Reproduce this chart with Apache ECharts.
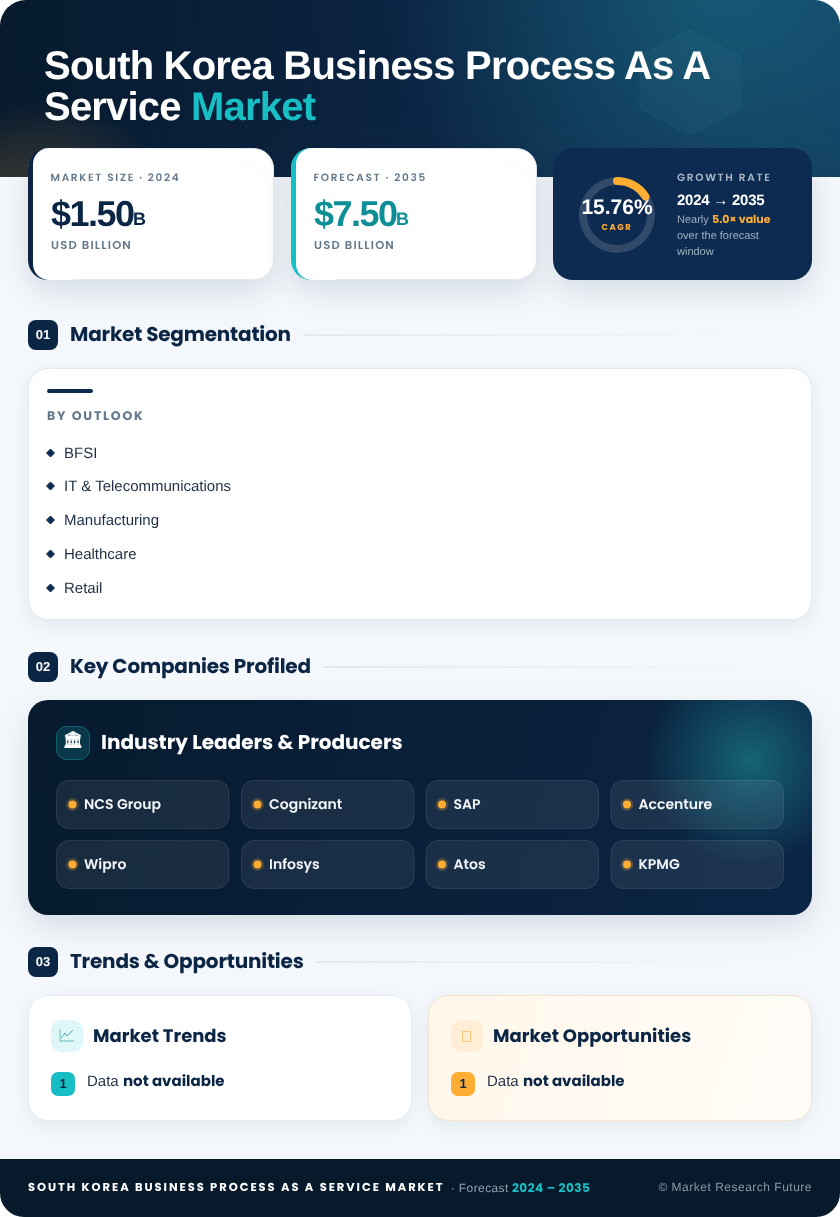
<!DOCTYPE html>
<html>
<head>
<meta charset="utf-8">
<title>South Korea Business Process As A Service Market</title>
<style>
  html, body { margin: 0; padding: 0; background: #ffffff; }
  #main { width: 840px; height: 1217px; }
</style>
</head>
<body>
<div id="main"></div>
<script src="https://cdn.jsdelivr.net/npm/echarts@6/dist/echarts.min.js"></script>
<script>
// values
const titleLines = ['South Korea Business Process As A', 'Service ', 'Market']
const marketLabels = ['MARKET SIZE · 2024', 'FORECAST · 2035']
const marketValues = ['$1.50', '$7.50']
const cagrValue = [15.76]
const growthLines = ['GROWTH RATE', '2024 → 2035', 'Nearly ', '5.0× value', 'over the forecast', 'window']
const sectionTitles = ['Market Segmentation', 'Key Companies Profiled', 'Trends & Opportunities']
const segments = ['BFSI', 'IT & Telecommunications', 'Manufacturing', 'Healthcare', 'Retail']
const companies = ['NCS Group', 'Cognizant', 'SAP', 'Accenture', 'Wipro', 'Infosys', 'Atos', 'KPMG']
const footerParts = ['SOUTH KOREA BUSINESS PROCESS AS A SERVICE MARKET', ' · Forecast ', '2024 – 2035', '© Market Research Future']

const NAVY = '#0b2545'
const DARK = '#071a2e'
const TEAL = '#17bfc4'
const AMBER = '#ffad33'
const GREY = '#64788c'
const SANS = '"Liberation Sans"'
const HEAD = 'Poppins, Inter'

// zrender has no letter spacing, so set it on the context for these strings
const spacing = {
  [titleLines[0]]: '-0.8px', [titleLines[1]]: '-0.8px', [titleLines[2]]: '-0.8px',
  [marketLabels[0]]: '1.7px', [marketLabels[1]]: '1.7px',
  [marketValues[0]]: '-1.5px', [marketValues[1]]: '-1.5px',
  'USD BILLION': '1.2px', 'GROWTH RATE': '1.7px', 'CAGR': '1.5px', 'BY OUTLOOK': '1.8px',
  [growthLines[1]]: '-0.25px',
  [sectionTitles[0]]: '-0.2px', [sectionTitles[1]]: '-0.2px', [sectionTitles[2]]: '-0.2px',
  [footerParts[0]]: '1.95px', [footerParts[1]]: '0.4px', [footerParts[2]]: '0.5px', [footerParts[3]]: '0.5px'
}
const fillText = CanvasRenderingContext2D.prototype.fillText
CanvasRenderingContext2D.prototype.fillText = function (t, x, y) {
  this.letterSpacing = spacing[t] || '0px'
  this.textRendering = 'geometricPrecision'
  fillText.call(this, t, x, y)
}

function txt(text, x, y, font, fill, align) {
  return {
    type: 'text',
    silent: true,
    style: { text, x, y, font, fill, align: align || 'left', verticalAlign: 'middle' }
  }
}
function box(x, y, width, height, r, fill, extra) {
  return {
    type: 'rect',
    silent: true,
    shape: { x, y, width, height, r },
    style: Object.assign({ fill }, extra || {})
  }
}
function radial(x, y, r, color, alpha) {
  return {
    type: 'radial', x, y, r, global: true,
    colorStops: [{ offset: 0, color: 'rgba(' + color + ',' + alpha + ')' }, { offset: 1, color: 'rgba(' + color + ',0)' }]
  }
}
const cardShadow = { shadowBlur: 30, shadowOffsetY: 12, shadowColor: 'rgba(11,37,69,0.13)' }
const softShadow = { shadowBlur: 18, shadowOffsetY: 5, shadowColor: 'rgba(11,37,69,0.08)' }

const els = []

// page and header
els.push(box(0, 0, 840, 1217, 26, '#f4f8fc'))
const headerFill = {
  type: 'linear', x: 0, y: 0.4, x2: 1, y2: 0,
  colorStops: [{ offset: 0, color: DARK }, { offset: 0.55, color: NAVY }, { offset: 1, color: '#10375a' }]
}
els.push(box(0, 0, 840, 177, [26, 26, 0, 0], headerFill))
els.push(box(0, 0, 840, 177, [26, 26, 0, 0], radial(720, -20, 340, '30,130,150', 0.5)))
els.push(box(0, 0, 840, 177, [26, 26, 0, 0], radial(40, 250, 150, '255,170,60', 0.35)))
els.push({
  type: 'polygon',
  silent: true,
  shape: { points: [[690, 30], [740, 56], [740, 109], [690, 135], [640, 109], [640, 56]] },
  style: { fill: 'rgba(120,200,210,0.05)', stroke: 'rgba(23,191,196,0.1)', lineWidth: 1 }
})
els.push(txt(titleLines[0], 44, 68, 'bold 40px ' + SANS, '#ffffff'))
els.push(txt(titleLines[1], 44, 109, 'bold 40px ' + SANS, '#ffffff'))
els.push(txt(titleLines[2], 191, 109, 'bold 40px ' + SANS, TEAL))

// value cards
const cardX = [28, 291]
const accent = [NAVY, TEAL]
const valueColor = [NAVY, '#0c8f96']
cardX.forEach((x, i) => {
  els.push(box(x + 0.5, 148.5, 245, 131, 20, '#ffffff', Object.assign({ stroke: '#e3eaf1', lineWidth: 1 }, cardShadow)))
  els.push(box(x, 148, 20, 132, [20, 0, 0, 20], accent[i]))
  els.push(box(x + 5, 148, 40, 132, [16, 0, 0, 16], '#ffffff'))
  els.push(txt(marketLabels[i], x + 22.5, 178, '600 10.5px ' + HEAD, GREY))
  els.push(txt(marketValues[i], x + 23, 216, 'bold 36px ' + SANS, valueColor[i]))
  els.push(txt('B', x + 105, 220, 'bold 18px ' + SANS, valueColor[i]))
  els.push(txt('USD BILLION', x + 23, 246.5, '600 11.5px ' + HEAD, GREY))
})

// growth card
els.push(box(553, 148, 259, 132, 20, '#0d2b50', cardShadow))
els.push(txt(growthLines[0], 677, 178, '600 10.5px ' + HEAD, '#a9b8c8'))
els.push(txt(growthLines[1], 677, 201, 'bold 15px ' + SANS, '#ffffff'))
els.push(txt(growthLines[2], 677, 220, '11px ' + SANS, '#9fb0c3'))
els.push(txt(growthLines[3], 712, 220, '700 11px ' + HEAD, AMBER))
els.push(txt(growthLines[4], 677, 236, '11px ' + SANS, '#9fb0c3'))
els.push(txt(growthLines[5], 677, 252, '11px ' + SANS, '#9fb0c3'))

// section headers
const sectionY = [335, 667, 962]
const ruleX = [303, 323, 316]
sectionTitles.forEach((t, i) => {
  const y = sectionY[i]
  els.push(box(28, y - 15, 30, 30, 8, NAVY))
  els.push(txt('0' + (i + 1), 43, y, 'bold 13px ' + SANS, '#ffffff', 'center'))
  els.push(txt(t, 70, y + 1, '700 20px ' + HEAD, NAVY))
  els.push(box(ruleX[i], y - 1, 450, 2, 1, {
    type: 'linear', x: 0, y: 0, x2: 1, y2: 0,
    colorStops: [{ offset: 0, color: '#e2e9f0' }, { offset: 1, color: 'rgba(226,233,240,0)' }]
  }))
})

// segmentation
els.push(box(28.5, 368.5, 783, 251, 20, '#ffffff', Object.assign({ stroke: '#e3eaf1', lineWidth: 1 }, softShadow)))
els.push(box(47, 389, 46, 4, 2, '#0d2b50'))
els.push(txt('BY OUTLOOK', 47, 417, '700 12.5px ' + HEAD, GREY))
const segmentY = [453, 486, 520, 554, 588]
segments.forEach((s, i) => {
  const y = segmentY[i]
  els.push({
    type: 'polygon', silent: true,
    shape: { points: [[50.5, y - 4], [54.5, y], [50.5, y + 4], [46.5, y]] },
    style: { fill: '#0d2b50', stroke: '#0d2b50', lineWidth: 1, lineJoin: 'round' }
  })
  els.push(txt(s, 64, y + 1, '15px ' + SANS, '#1f2f45'))
})

// companies
const companyFill = {
  type: 'linear', x: 0, y: 0, x2: 1, y2: 1,
  colorStops: [{ offset: 0, color: DARK }, { offset: 1, color: NAVY }]
}
els.push(box(28, 700, 784, 215, 20, companyFill, cardShadow))
els.push(box(28, 700, 784, 215, 20, radial(750, 760, 105, '35,176,181', 0.45)))
els.push(box(56.5, 726.5, 33, 33, 10, 'rgba(23,191,196,0.18)', { stroke: 'rgba(23,191,196,0.4)', lineWidth: 1 }))
els.push(txt('🏛', 73, 740.5, 'bold 16px "DejaVu Sans"', '#ffffff', 'center'))
els.push(txt('Industry Leaders & Producers', 101, 744, '700 20px ' + HEAD, '#ffffff'))
const chipX = [56.5, 241.5, 426, 611]
const chipY = [780, 840]
companies.forEach((c, i) => {
  const x = chipX[i % 4]
  const y = chipY[Math.floor(i / 4)]
  els.push(box(x, y + 0.5, 172.5, 48, 12, 'rgba(255,255,255,0.07)', { stroke: 'rgba(255,255,255,0.1)', lineWidth: 1 }))
  els.push({ type: 'circle', silent: true, shape: { cx: x + 16, cy: y + 24.5, r: 6.5 }, style: { fill: 'rgba(255,173,51,0.22)' } })
  els.push({ type: 'circle', silent: true, shape: { cx: x + 16, cy: y + 24.5, r: 4 }, style: { fill: AMBER } })
  els.push(txt(c, x + 27.5, y + 25, '600 14px ' + HEAD, '#f2f5f8'))
})

// trends and opportunities
const trendX = [28, 428]
const trendTitles = ['Market Trends', 'Market Opportunities']
const trendFill = ['#ffffff', {
  type: 'linear', x: 0, y: 0, x2: 1, y2: 1,
  colorStops: [{ offset: 0, color: '#fff7ea' }, { offset: 1, color: '#fffcf8' }]
}]
const trendBorder = ['#e3eaf1', '#f3e4cc']
const iconFill = ['#e0f7f8', '#ffeed6']
const badgeFill = [TEAL, AMBER]
trendX.forEach((x, i) => {
  els.push(box(x + 0.5, 995.5, 383, 125, 20, trendFill[i], Object.assign({ stroke: trendBorder[i], lineWidth: 1 }, softShadow)))
  els.push(box(x + 23, 1020, 32, 32, 10, iconFill[i]))
  els.push(txt(trendTitles[i], x + 65, 1037, '700 18px ' + HEAD, NAVY))
  els.push(box(x + 23, 1072, 24, 24, 7, badgeFill[i]))
  els.push(txt('1', x + 35, 1084.5, 'bold 13px ' + SANS, NAVY, 'center'))
  els.push(txt('Data ', x + 59, 1082, '15px ' + SANS, '#1f2f45'))
  els.push(txt('not available', x + 95, 1082, '700 15px ' + HEAD, NAVY))
})
// trend icon, thin line chart glyph
els.push({
  type: 'polyline', silent: true,
  shape: { points: [[60, 1029], [60, 1041], [74, 1041]] },
  style: { fill: 'none', stroke: 'rgba(12,143,150,0.55)', lineWidth: 1 }
})
els.push({
  type: 'polyline', silent: true,
  shape: { points: [[61, 1038], [65, 1033], [67, 1036], [73, 1030]] },
  style: { fill: 'none', stroke: 'rgba(12,143,150,0.7)', lineWidth: 1 }
})
// opportunity icon, missing glyph box
els.push(box(462.5, 1031.5, 8, 10, 0, 'none', { stroke: 'rgba(255,173,51,0.6)', lineWidth: 1 }))

// footer
els.push(box(0, 1159, 840, 58, [0, 0, 24, 24], '#071a2b'))
els.push(txt(footerParts[0], 28, 1188.5, '700 11.5px ' + HEAD, '#ffffff'))
els.push(txt(footerParts[1], 447, 1188.5, '12px ' + SANS, '#8fa0af'))
els.push(txt(footerParts[2], 512, 1188.5, '700 12px ' + HEAD, TEAL))
els.push(txt(footerParts[3], 812, 1187.5, '12px ' + SANS, '#8a9aa8', 'right'))

const option = {
  animation: false,
  graphic: { elements: els },
  series: [{
    type: 'gauge',
    center: [617, 215],
    radius: 38,
    startAngle: 90,
    endAngle: -270,
    min: 0,
    max: 100,
    silent: true,
    pointer: { show: false },
    axisTick: { show: false },
    splitLine: { show: false },
    axisLabel: { show: false },
    axisLine: { lineStyle: { width: 8, color: [[1, 'rgba(255,255,255,0.15)']] } },
    progress: { show: true, width: 8, roundCap: true, itemStyle: { color: AMBER } },
    title: { offsetCenter: [0, 13], color: AMBER, fontFamily: 'Poppins, Inter', fontWeight: 700, fontSize: 8.5 },
    detail: {
      offsetCenter: [0, -7],
      formatter: '{value}%',
      color: '#ffffff',
      fontFamily: SANS,
      fontWeight: 'bold',
      fontSize: 21
    },
    data: [{ value: cagrValue[0], name: 'CAGR' }]
  }]
}

const myEchart = echarts.init(document.getElementById('main'))
myEchart.setOption(option)
</script>
</body>
</html>
